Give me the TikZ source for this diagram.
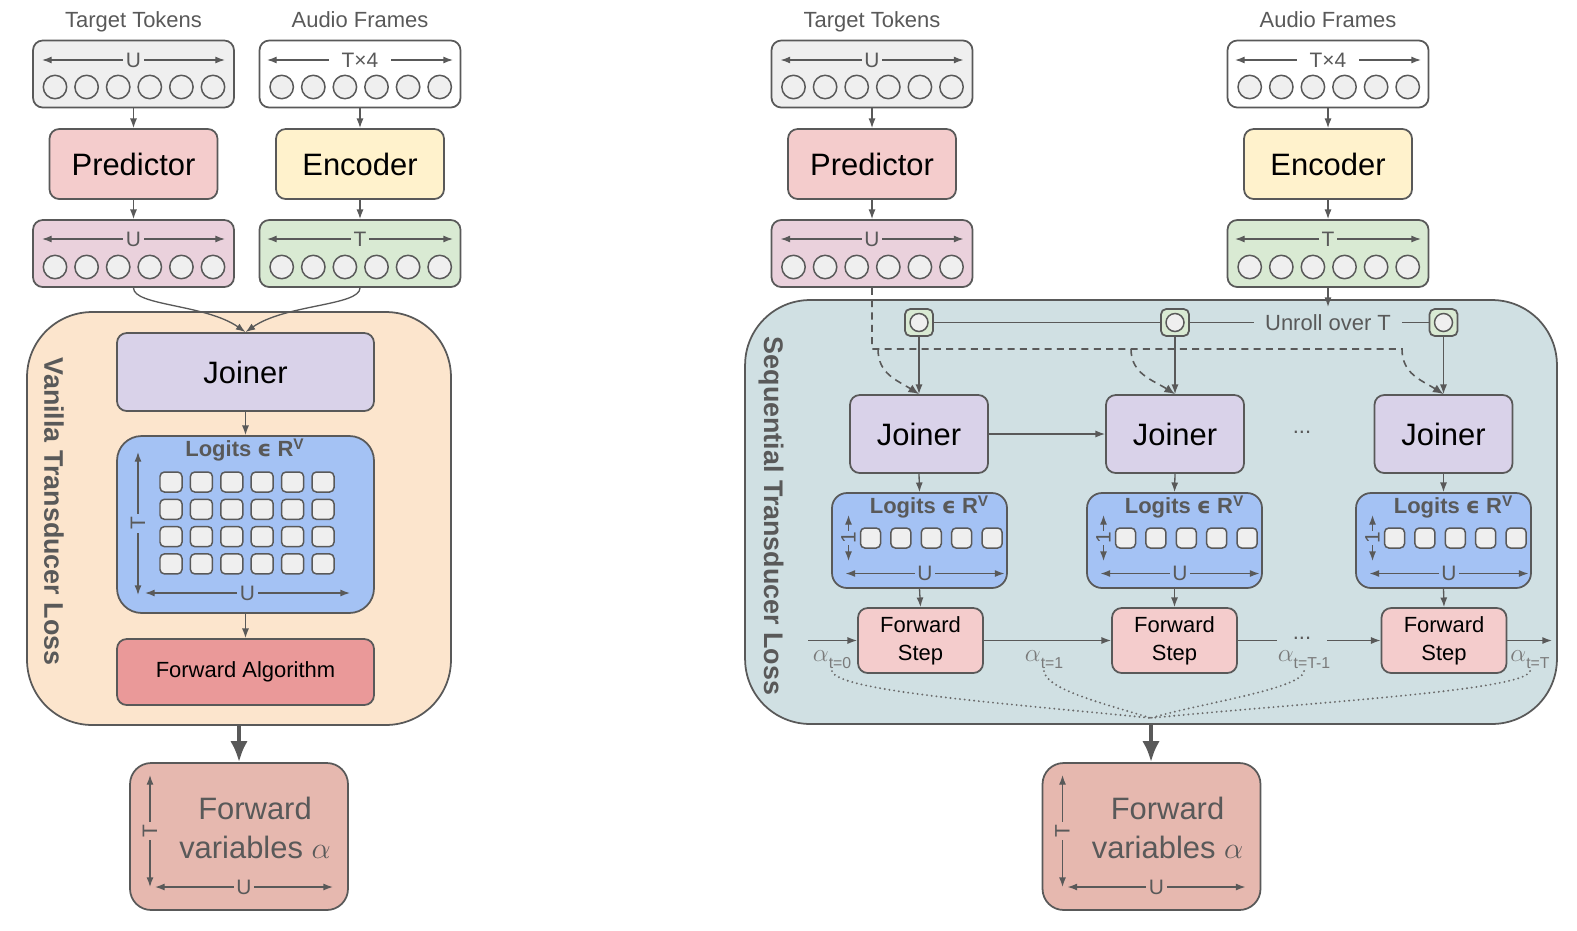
\documentclass[tikz,border=0pt]{standalone}
\usepackage{fontspec}
\setmainfont{Liberation Sans}
\newfontfamily\symfont{DejaVu Sans}
\usetikzlibrary{arrows.meta}

\definecolor{linegray}{HTML}{595959}
\definecolor{textgray}{HTML}{595959}
\definecolor{alphagray}{HTML}{7A7A7A}
\definecolor{tokgray}{HTML}{EFEFEF}
\definecolor{predpink}{HTML}{F4CCCC}
\definecolor{encyellow}{HTML}{FFF2CC}
\definecolor{predout}{HTML}{EAD1DC}
\definecolor{encgreen}{HTML}{D9EAD3}
\definecolor{vanillabg}{HTML}{FCE5CD}
\definecolor{seqbg}{HTML}{D0E0E3}
\definecolor{joinerlilac}{HTML}{D9D2E9}
\definecolor{logitblue}{HTML}{A4C2F4}
\definecolor{algred}{HTML}{EA9999}
\definecolor{fvred}{HTML}{E6B8AF}

\newcommand{\tkbig}{\fontsize{17.6}{22}\selectfont}
\newcommand{\tkmid}{\fontsize{12.5}{15.9}\selectfont}
\newcommand{\tktitle}{\fontsize{12.5}{14}\selectfont}
\newcommand{\tkdim}{\fontsize{11.9}{14}\selectfont}
\newcommand{\tkloss}{\fontsize{15.3}{18}\selectfont\bfseries}
\newcommand{\tksub}{\fontsize{9}{10}\selectfont}

\tikzset{
  tokbox/.style={draw=linegray, line width=1pt, rounded corners=5.5pt, minimum width=4.02cm, minimum height=1.34cm, inner sep=0pt},
  unitbox/.style={draw=linegray, line width=1pt, rounded corners=5.5pt, minimum width=3.36cm, minimum height=1.4cm, inner sep=0pt, font=\tkbig, text=black},
  lossbox/.style={draw=linegray, line width=1pt, rounded corners=1.3cm, inner sep=0pt},
  logitbox/.style={draw=linegray, line width=1pt, fill=logitblue, inner sep=0pt},
  fvbox/.style={draw=linegray, line width=1pt, fill=fvred, rounded corners=12pt, minimum width=4.36cm, minimum height=2.94cm, inner sep=0pt},
  gbox/.style={draw=linegray, line width=1pt, fill=encgreen, rounded corners=3pt, minimum width=0.56cm, minimum height=0.54cm, inner sep=0pt},
  tokcircle/.style={draw=linegray, line width=0.85pt, fill=tokgray},
  logitsq/.style={draw=linegray, line width=0.85pt, fill=tokgray, rounded corners=2.5pt},
  dimarrow/.style={draw=linegray, line width=0.75pt, {Latex[length=5.5pt,width=4pt]}-{Latex[length=5.5pt,width=4pt]}},
  dimlbl/.style={fill=#1, inner xsep=1.5pt, inner ysep=0pt, font=\tkdim, text=textgray},
  flow/.style={draw=linegray, line width=0.75pt, -{Latex[length=5.5pt,width=4pt]}},
  link/.style={draw=linegray, line width=0.75pt},
  dashflow/.style={draw=linegray, line width=0.9pt, dash pattern=on 4pt off 3pt, -{Latex[length=6pt,width=5pt]}},
  dotline/.style={draw=linegray!90, line width=1.2pt, line cap=round, dash pattern=on 0pt off 2.7pt},
  bigflow/.style={draw=linegray, line width=2.3pt, -{Latex[length=12pt,width=10pt]}},
  graytext/.style={text=textgray},
  alphalbl/.style={text=alphagray, inner sep=1pt, font=\fontsize{13.5}{15}\selectfont},
}

\begin{document}
\begin{tikzpicture}[x=0.02cm, y=-0.02cm]
  \useasboundingbox (0,0) rectangle (1577,930);

  \node[graytext, font=\tktitle] (tt1) at (133.5,22) {Target Tokens};
  \node[graytext, font=\tktitle] (af1) at (360,20) {Audio Frames};
  \node[tokbox, fill=tokgray] (tok1) at (133.5,74) {};
  \node[tokbox, fill=white] (aud1) at (360,74) {};
  \node[unitbox, fill=predpink] (pred1) at (133.5,164) {Predictor};
  \node[unitbox, fill=encyellow] (enc1) at (360,164) {Encoder};
  \node[tokbox, fill=predout] (po1) at (133.5,253.5) {};
  \node[tokbox, fill=encgreen] (eo1) at (360,253.5) {};

  \foreach \k in {0,...,5} {
    \draw[tokcircle] ({55+31.6*\k},87) circle[radius=0.234cm];
    \draw[tokcircle] ({281.7+31.6*\k},87) circle[radius=0.234cm];
    \draw[tokcircle] ({55+31.6*\k},267) circle[radius=0.234cm];
    \draw[tokcircle] ({281.7+31.6*\k},267) circle[radius=0.234cm];
  }
  \draw[dimarrow] (42,60) -- (225,60) node[midway, dimlbl=tokgray] {U};
  \draw[dimarrow] (267,60) -- (453,60) node[midway, dimlbl=white, inner xsep=7pt] {T×4};
  \draw[dimarrow] (42,239) -- (225,239) node[midway, dimlbl=predout] {U};
  \draw[dimarrow] (267,239) -- (453,239) node[midway, dimlbl=encgreen] {T};

  \draw[flow] (tok1.south) -- (pred1.north);
  \draw[flow] (aud1.south) -- (enc1.north);
  \draw[flow] (pred1.south) -- (po1.north);
  \draw[flow] (enc1.south) -- (eo1.north);

  \node[lossbox, fill=vanillabg, minimum width=8.48cm, minimum height=8.26cm] (van) at (239,518.5) {};
  \node[graytext, font=\tkloss, rotate=-90] (vanlbl) at (54,511.5) {Vanilla Transducer Loss};
  \node[unitbox, fill=joinerlilac, minimum width=5.14cm, minimum height=1.56cm] (join1) at (245.5,372) {Joiner};
  \node[logitbox, rounded corners=14pt, minimum width=5.14cm, minimum height=3.54cm] (log1) at (245.5,524.5) {};
  \node[graytext, font=\tkmid\bfseries] (logt1) at (245,450) {Logits {\symfont ϵ} R\textsuperscript{V}};
  \node[unitbox, fill=algred, minimum width=5.14cm, minimum height=1.32cm, font=\tkmid] (fa) at (245.5,672) {Forward Algorithm};

  \draw[flow] (po1.south) .. controls +(0,18) and +(-40,-28) .. (join1.north);
  \draw[flow] (eo1.south) .. controls +(0,18) and +(40,-28) .. (join1.north);

  \foreach \c in {0,...,5}
    \foreach \r in {0,...,3}
      \draw[logitsq] ({160+30.4*\c},{472+27.3*\r}) rectangle +(22,20);
  \draw[dimarrow] (138,452) -- (138,595) node[midway, dimlbl=logitblue, rotate=90] {T};
  \draw[dimarrow] (145,593) -- (350,593) node[midway, dimlbl=logitblue] {U};

  \draw[flow] (join1.south) -- (log1.north);
  \draw[flow] (log1.south) -- (fa.north);

  \node[fvbox] (fv1) at (239,836.5) {};
  \node[graytext, font=\tkbig, align=center] (fvt1) at (255,828) {Forward\\variables $\alpha$};
  \draw[dimarrow] (150,775) -- (150,887) node[midway, dimlbl=fvred, rotate=90] {T};
  \draw[dimarrow] (155,887) -- (333,887) node[midway, dimlbl=fvred] {U};
  \draw[bigflow] (van.south) -- (fv1.north);

  \node[graytext, font=\tktitle] (tt2) at (872,22) {Target Tokens};
  \node[graytext, font=\tktitle] (af2) at (1328,20) {Audio Frames};
  \node[tokbox, fill=tokgray] (tok2) at (872,74) {};
  \node[tokbox, fill=white] (aud2) at (1328,74) {};
  \node[unitbox, fill=predpink] (pred2) at (872,164) {Predictor};
  \node[unitbox, fill=encyellow] (enc2) at (1328,164) {Encoder};
  \node[tokbox, fill=predout] (po2) at (872,253.5) {};
  \node[tokbox, fill=encgreen] (eo2) at (1328,253.5) {};

  \foreach \k in {0,...,5} {
    \draw[tokcircle] ({793.5+31.6*\k},87) circle[radius=0.234cm];
    \draw[tokcircle] ({1249.7+31.6*\k},87) circle[radius=0.234cm];
    \draw[tokcircle] ({793.5+31.6*\k},267) circle[radius=0.234cm];
    \draw[tokcircle] ({1249.7+31.6*\k},267) circle[radius=0.234cm];
  }
  \draw[dimarrow] (780.5,60) -- (963.5,60) node[midway, dimlbl=tokgray] {U};
  \draw[dimarrow] (1235,60) -- (1421,60) node[midway, dimlbl=white, inner xsep=7pt] {T×4};
  \draw[dimarrow] (780.5,239) -- (963.5,239) node[midway, dimlbl=predout] {U};
  \draw[dimarrow] (1235,239) -- (1421,239) node[midway, dimlbl=encgreen] {T};

  \draw[flow] (tok2.south) -- (pred2.north);
  \draw[flow] (aud2.south) -- (enc2.north);
  \draw[flow] (pred2.south) -- (po2.north);
  \draw[flow] (enc2.south) -- (eo2.north);

  \node[lossbox, fill=seqbg, minimum width=16.24cm, minimum height=8.48cm] (seq) at (1151,512) {};
  \node[graytext, font=\tkloss, rotate=-90] (seqlbl) at (771,516) {Sequential Transducer Loss};

  \node[gbox] (g1) at (919,322.5) {};
  \node[gbox] (g2) at (1175,322.5) {};
  \node[gbox] (g3) at (1443.5,322.5) {};
  \draw[tokcircle] (g1) circle[radius=0.18cm];
  \draw[tokcircle] (g2) circle[radius=0.18cm];
  \draw[tokcircle] (g3) circle[radius=0.18cm];
  \node[graytext, font=\tkmid, inner xsep=6pt] (unroll) at (1328,322.5) {Unroll over T};
  \coordinate (unrollin) at (1328,307);
  \draw[flow] (eo2.south) -- (unrollin);
  \draw[link] (g1.east) -- (g2.west);
  \draw[link] (g2.east) -- (unroll.west);
  \draw[link] (unroll.east) -- (g3.west);

  \node[unitbox, fill=joinerlilac, minimum width=2.76cm, minimum height=1.56cm] (j1) at (919,434) {Joiner};
  \node[unitbox, fill=joinerlilac, minimum width=2.76cm, minimum height=1.56cm] (j2) at (1175,434) {Joiner};
  \node[unitbox, fill=joinerlilac, minimum width=2.76cm, minimum height=1.56cm] (j3) at (1443.5,434) {Joiner};
  \node[graytext, font=\tkmid] (jdots) at (1302,432) {...};

  \draw[flow] (g1.south) -- (j1.north);
  \draw[flow] (g2.south) -- (j2.north);
  \draw[flow] (g3.south) -- (j3.north);
  \draw[flow] (j1.east) -- (j2.west);

  \coordinate (dash1) at (878,349);
  \coordinate (dash2) at (1131,349);
  \coordinate (dash3) at (1402,349);
  \draw[dashflow] (po2.south) |- (dash3) .. controls +(0,25) and +(-22,-14) .. (j3.north);
  \draw[dashflow] (dash1) .. controls +(0,25) and +(-22,-14) .. (j1.north);
  \draw[dashflow] (dash2) .. controls +(0,25) and +(-22,-14) .. (j2.north);

  \node[logitbox, rounded corners=8.5pt, minimum width=3.5cm, minimum height=1.9cm] (l1) at (919.5,540.5) {};
  \node[logitbox, rounded corners=8.5pt, minimum width=3.5cm, minimum height=1.9cm] (l2) at (1174.5,540.5) {};
  \node[logitbox, rounded corners=8.5pt, minimum width=3.5cm, minimum height=1.9cm] (l3) at (1443.5,540.5) {};
  \foreach \cx/\n in {919.5/1, 1174.5/2, 1443.5/3} {
    \node[graytext, font=\tkmid\bfseries] (lt\n) at (\cx+10,507) {Logits {\symfont ϵ} R\textsuperscript{V}};
    \foreach \k in {0,...,4}
      \draw[logitsq] ({\cx-59+30.4*\k},528) rectangle +(20,20);
    \draw[dimarrow] (\cx-71,515) -- (\cx-71,561) node[midway, dimlbl=logitblue, inner xsep=0.5pt, rotate=90] {1};
    \draw[dimarrow] (\cx-74,573.5) -- (\cx+85,573.5) node[midway, dimlbl=logitblue] {U};
  }

  \node[unitbox, fill=predpink, minimum width=2.5cm, minimum height=1.3cm, font=\tkmid, align=center] (fs1) at (920.5,640.5) {Forward\\Step};
  \node[unitbox, fill=predpink, minimum width=2.5cm, minimum height=1.3cm, font=\tkmid, align=center] (fs2) at (1174.5,640.5) {Forward\\Step};
  \node[unitbox, fill=predpink, minimum width=2.5cm, minimum height=1.3cm, font=\tkmid, align=center] (fs3) at (1444,640.5) {Forward\\Step};

  \draw[flow] (j1.south) -- (l1.north);
  \draw[flow] (j2.south) -- (l2.north);
  \draw[flow] (j3.south) -- (l3.north);
  \draw[flow] (l1.south) -- (fs1.north);
  \draw[flow] (l2.south) -- (fs2.north);
  \draw[flow] (l3.south) -- (fs3.north);

  \coordinate (fsin) at (808,640.5);
  \coordinate (fsout) at (1552,640.5);
  \node[graytext, font=\tkmid, inner xsep=9pt, inner ysep=1pt] (fsdots) at (1302,638) {...};
  \draw[flow] (fsin) -- (fs1.west);
  \draw[flow] (fs1.east) -- (fs2.west);
  \draw[link] (fs2.east) -- (fs2.east -| fsdots.west);
  \draw[flow] (fs3.west -| fsdots.east) -- (fs3.west);
  \draw[flow] (fs3.east) -- (fsout);

  \node[alphalbl] (a0) at (832,660) {$\alpha$\raisebox{-0.55ex}{\tksub t=0}};
  \node[alphalbl] (a1) at (1044,660) {$\alpha$\raisebox{-0.55ex}{\tksub t=1}};
  \node[alphalbl] (a2) at (1304,660) {$\alpha$\raisebox{-0.55ex}{\tksub t=T-1}};
  \node[alphalbl] (a3) at (1530,660) {$\alpha$\raisebox{-0.55ex}{\tksub t=T}};
  \coordinate (conv) at (1151,718);
  \draw[dotline] (a0.south) .. controls +(5,20) and +(-150,-15) .. (conv);
  \draw[dotline] (a1.south) .. controls +(2,18) and +(-50,-15) .. (conv);
  \draw[dotline] (a2.south) .. controls +(-2,18) and +(50,-15) .. (conv);
  \draw[dotline] (a3.south) .. controls +(-5,20) and +(150,-15) .. (conv);

  \node[fvbox] (fv2) at (1151.5,836.5) {};
  \node[graytext, font=\tkbig, align=center] (fvt2) at (1167.5,828) {Forward\\variables $\alpha$};
  \draw[dimarrow] (1062.5,775) -- (1062.5,887) node[midway, dimlbl=fvred, rotate=90] {T};
  \draw[dimarrow] (1067.5,887) -- (1245.5,887) node[midway, dimlbl=fvred] {U};
  \draw[bigflow] (seq.south -| conv) -- (fv2.north -| conv);
\end{tikzpicture}
\end{document}
